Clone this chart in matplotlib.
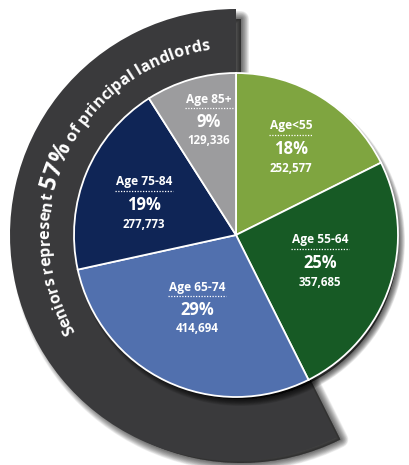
import numpy as np
import matplotlib
matplotlib.use('Agg')
import matplotlib.pyplot as plt
from matplotlib.patches import Wedge, Circle
from matplotlib.textpath import TextPath
from matplotlib.font_manager import FontProperties

# ---------------- data ----------------
categories = ['Age<55', 'Age 55-64', 'Age 65-74', 'Age 75-84', 'Age 85+']
counts = [252577, 357685, 414694, 277773, 129336]
pct_labels = ['18%', '25%', '29%', '19%', '9%']
count_labels = ['252,577', '357,685', '414,694', '277,773', '129,336']
is_senior = [False, False, True, True, True]
banner_parts = ['Seniors represent ', '57%', ' of principal landlords']

# ---------------- style ----------------
colors = ['#7fa540', '#175a25', '#5170ae', '#0f2556', '#9c9c9e']
band_color = '#3a3a3c'
FONT = 'Open Sans'

W, H = 409, 465
fig = plt.figure(figsize=(W / 100, H / 100), dpi=100)
ax = fig.add_axes([0, 0, 1, 1])
cx, cy = 236, 230
R = 162
R_band = 226

total = sum(counts)
senior_share = sum(c for c, s in zip(counts, is_senior) if s) / total
theta1, theta2 = 90, 90 + 360 * senior_share


def soft_shadow(make_patch, spread=8, n=12, alpha_total=0.55, z=0):
    a = 1 - (1 - alpha_total) ** (1 / n)
    for i in range(n):
        lw_px = 2 * spread * (1 - i / n)
        p = make_patch()
        p.set_facecolor('black')
        p.set_edgecolor('black')
        p.set_linewidth(lw_px * 72 / 100)
        p.set_joinstyle('round')
        p.set_alpha(a)
        p.set_zorder(z)
        ax.add_patch(p)


# band shadow
soft_shadow(lambda: Wedge((cx + 5, cy - 6), R_band - 4, theta1, theta2), spread=8, z=0)
# band
ax.add_patch(Wedge((cx, cy), R_band, theta1, theta2, facecolor=band_color,
                   edgecolor='none', zorder=1))
# pie shadow
soft_shadow(lambda: Circle((cx + 4, cy - 6), R - 4), spread=7, alpha_total=0.6, z=2)

wedges, _ = ax.pie(counts, colors=colors, startangle=90, counterclock=False,
                   radius=R, center=(cx, cy),
                   wedgeprops=dict(edgecolor='white', linewidth=1.3, zorder=3))
for w in wedges:
    w.set_zorder(3)

# slice labels (anchor offsets of the percentage line relative to the centre)
label_offsets = [(55, 86), (84, -28), (-39, -75), (-92, 30), (-27, 113)]
fig.canvas.draw()
renderer = fig.canvas.get_renderer()
for cat, pl, cl, (dx, dy) in zip(categories, pct_labels, count_labels, label_offsets):
    x, y = cx + dx, cy + dy
    t = ax.text(x, y + 23, cat, color='white', fontsize=8.6, family=FONT,
                weight='bold', ha='center', va='center', zorder=5)
    ax.text(x, y, pl, color='white', fontsize=12, family=FONT,
            weight='bold', ha='center', va='center', zorder=5)
    ax.text(x, y - 19, cl, color='white', fontsize=8.3, family=FONT,
            weight='bold', ha='center', va='center', zorder=5)
    bb = t.get_window_extent(renderer)
    half = bb.width / 2 + 1
    ax.plot([x - half, x + half], [y + 14, y + 14], color='white', lw=0.9,
            ls=(0, (1, 1.2)), zorder=5)

# curved banner text
fp = FontProperties(family=FONT, weight='bold')
base_sizes = [14, 20, 14]


def advance(c, size):
    w1 = TextPath((0, 0), 'H' + c + 'H', size=size, prop=fp).get_extents().width
    w0 = TextPath((0, 0), 'HH', size=size, prop=fp).get_extents().width
    return w1 - w0


def ink_center(c, size):
    e = TextPath((0, 0), c, size=size, prop=fp).get_extents()
    return (e.x0 + e.x1) / 2


r_base = 187
start_deg, end_deg = 211, 98
target = np.deg2rad(start_deg - end_deg) * r_base
measured = sum(advance(c, sz) for part, sz in zip(banner_parts, base_sizes) for c in part)
scale = target / measured
sizes_px = [sz * scale for sz in base_sizes]

start = np.deg2rad(start_deg)
s = 0.0
for part, sz in zip(banner_parts, sizes_px):
    for c in part:
        adv = advance(c, sz)
        if c != ' ':
            th = start - (s + ink_center(c, sz)) / r_base
            x, y = cx + r_base * np.cos(th), cy + r_base * np.sin(th)
            ax.text(x, y, c, color='white', fontsize=sz * 72 / 100, family=FONT,
                    weight='bold', ha='center', va='baseline',
                    rotation=np.rad2deg(th) - 90, rotation_mode='anchor', zorder=6)
        s += adv

ax.set_xlim(0, W)
ax.set_ylim(0, H)
ax.set_aspect('auto')
ax.axis('off')
fig.savefig('out.png', dpi=100, facecolor='white')
